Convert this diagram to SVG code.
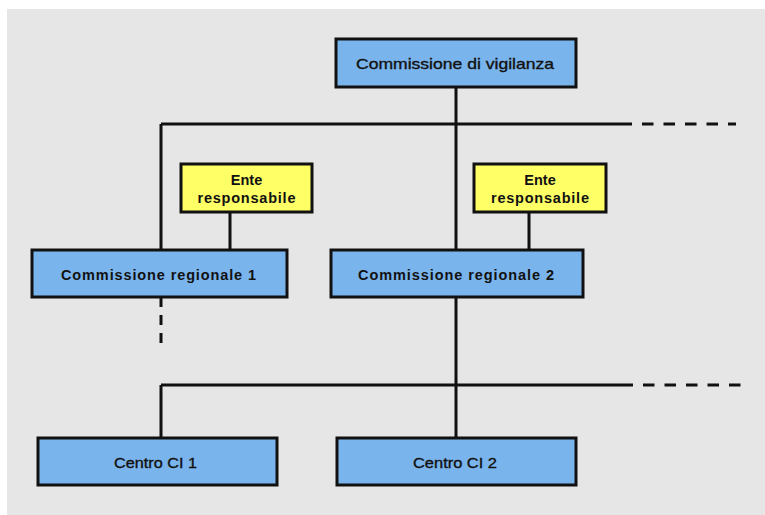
<svg xmlns="http://www.w3.org/2000/svg" width="765" height="515" viewBox="0 0 765 515">
<style>
.blue{fill:#7ab4ec;stroke:#111;stroke-width:3}
.yellow{fill:#ffff66;stroke:#111;stroke-width:3}
.ln{stroke:#111;stroke-width:3;fill:none}
.dash{stroke:#111;stroke-width:3;fill:none;stroke-dasharray:11.5 10}
.vdash{stroke:#111;stroke-width:3;fill:none;stroke-dasharray:10 8}
.t{font-family:"Liberation Sans",Arial,sans-serif;font-size:15px;fill:#111;text-anchor:middle;stroke:#111;stroke-width:0.35}
.b{font-weight:bold;font-size:14.5px;stroke:none}
</style>
<rect x="7" y="9" width="758" height="506" fill="#e6e6e6"/>
<g id="connectors">
<path class="ln" d="M456 87V250M161 124H632M161 124V250M230 212V250M529 212V250M456 297V438M161 385H633M161 385V438"/>
<path class="dash" d="M642 124H736"/>
<path class="dash" d="M643 385H741"/>
<path class="vdash" d="M161 297V343"/>
</g>
<g id="commissione-vigilanza">
<rect class="blue" x="336" y="39" width="240" height="48"/>
<text class="t" x="455" y="68.5" textLength="198" lengthAdjust="spacingAndGlyphs">Commissione di vigilanza</text>
</g>
<g id="ente1">
<rect class="yellow" x="181" y="164" width="131" height="48"/>
<text class="t b" x="246.5" y="185">Ente</text>
<text class="t b" x="246.5" y="203" textLength="98" lengthAdjust="spacing">responsabile</text>
</g>
<g id="ente2">
<rect class="yellow" x="474" y="164" width="132" height="48"/>
<text class="t b" x="540" y="185">Ente</text>
<text class="t b" x="540" y="203" textLength="98" lengthAdjust="spacing">responsabile</text>
</g>
<g id="commissione-regionale-1">
<rect class="blue" x="32" y="250" width="255" height="47"/>
<text class="t b" x="158.5" y="279.5" textLength="195" lengthAdjust="spacing">Commissione regionale 1</text>
</g>
<g id="commissione-regionale-2">
<rect class="blue" x="331" y="250" width="252" height="47"/>
<text class="t b" x="456" y="279.5" textLength="196" lengthAdjust="spacing">Commissione regionale 2</text>
</g>
<g id="centro-ci-1">
<rect class="blue" x="38" y="438" width="239" height="47"/>
<text class="t" x="155.5" y="467.5" textLength="83" lengthAdjust="spacingAndGlyphs">Centro CI 1</text>
</g>
<g id="centro-ci-2">
<rect class="blue" x="337" y="438" width="239" height="47"/>
<text class="t" x="455" y="467.5" textLength="84" lengthAdjust="spacingAndGlyphs">Centro CI 2</text>
</g>
</svg>
